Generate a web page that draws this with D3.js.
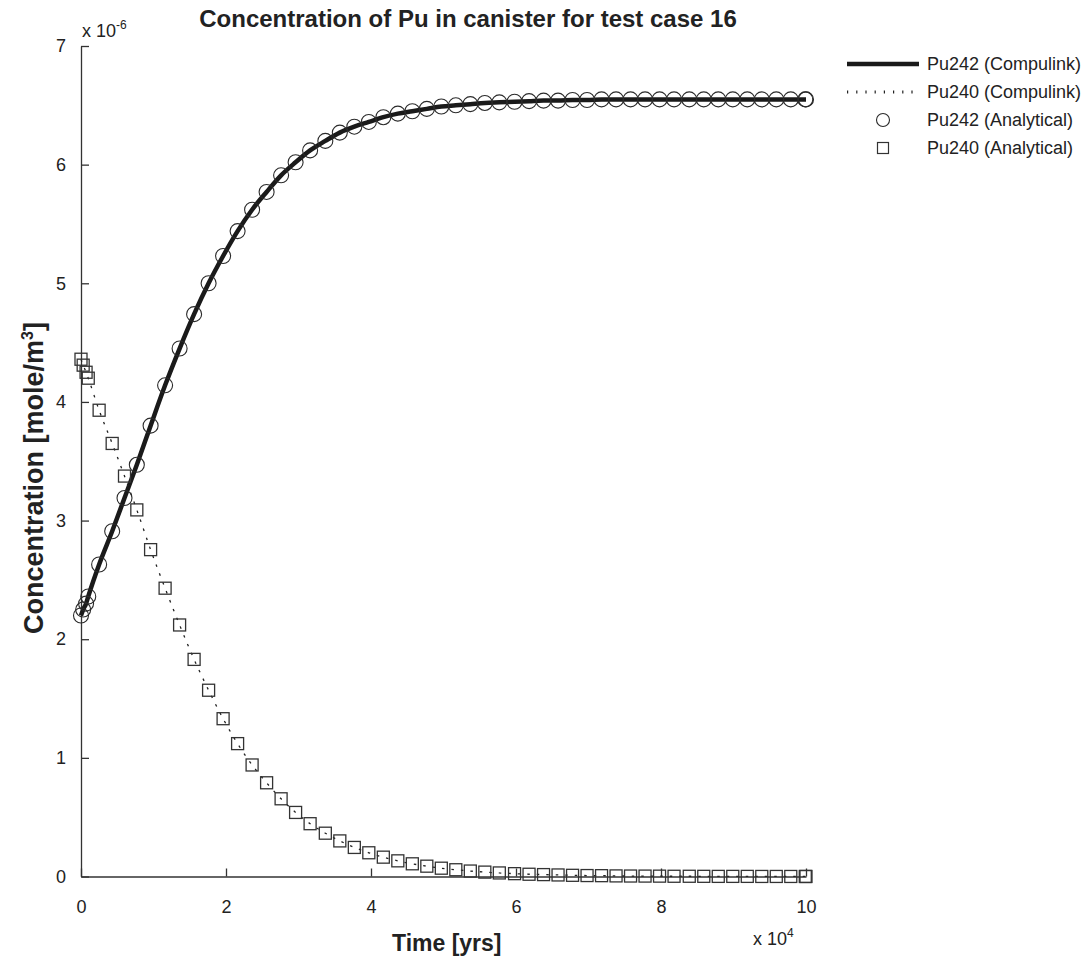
<!DOCTYPE html>
<html><head><meta charset="utf-8">
<script src="https://cdn.jsdelivr.net/npm/d3@7"></script>
<style>
body{margin:0;background:#fff}
text{font-family:"Liberation Sans",Arial,Helvetica,sans-serif;fill:#222}
</style>
</head><body>
<svg id="chart" width="1091" height="965"></svg>
<script>
// ---- data ----
const timeYears = [0, 300, 700, 1000, 2500, 4300, 6000, 7700, 9600, 11600, 13600, 15600, 17600, 19600,
  21600, 23600, 25600, 27600, 29600, 31600, 33700, 35700, 37700, 39700, 41700, 43700, 45700, 47700,
  49700, 51700, 53700, 55700, 57700, 59800, 61800, 63800, 65800, 67800, 69800, 71800, 73800, 75800,
  77800, 79800, 81800, 83900, 85900, 87900, 89900, 91900, 93900, 95900, 97900, 99900, 100000];
const pu242Analytical = [2.20, 2.25, 2.30, 2.36, 2.63, 2.91, 3.19, 3.47, 3.80, 4.14, 4.45, 4.74, 5.00, 5.23,
  5.44, 5.62, 5.77, 5.91, 6.02, 6.12, 6.20, 6.27, 6.32, 6.36, 6.40, 6.43, 6.45, 6.47,
  6.49, 6.50, 6.51, 6.52, 6.525, 6.53, 6.535, 6.54, 6.54, 6.545, 6.545, 6.55, 6.55, 6.55,
  6.55, 6.55, 6.55, 6.55, 6.55, 6.55, 6.55, 6.55, 6.55, 6.55, 6.55, 6.55, 6.55];
const pu240Analytical = [4.36, 4.31, 4.25, 4.20, 3.93, 3.65, 3.375, 3.09, 2.755, 2.43, 2.12, 1.83, 1.57, 1.33,
  1.12, 0.94, 0.79, 0.655, 0.54, 0.445, 0.365, 0.30, 0.245, 0.20, 0.163, 0.132, 0.107, 0.087,
  0.070, 0.057, 0.046, 0.037, 0.030, 0.024, 0.019, 0.016, 0.013, 0.010, 0.008, 0.007, 0.005, 0.004,
  0.0035, 0.003, 0.002, 0.002, 0.0015, 0.001, 0.001, 0.001, 0.0005, 0.0005, 0.0004, 0.0003, 0.0003];
// Compulink curves coincide with the analytical solution
const compulinkTimes = timeYears;
const pu242Compulink = pu242Analytical;
const pu240Compulink = pu240Analytical;
const valueScale = 1e-6;
const xTicks = [0, 20000, 40000, 60000, 80000, 100000];
const xTickLabels = ["0", "2", "4", "6", "8", "10"];
const yTicks = [0, 1, 2, 3, 4, 5, 6, 7];
const yTickLabels = ["0", "1", "2", "3", "4", "5", "6", "7"];
const legendLabels = ["Pu242 (Compulink)", "Pu240 (Compulink)", "Pu242 (Analytical)", "Pu240 (Analytical)"];

// ---- chart ----
const svg = d3.select("#chart");
const x = d3.scaleLinear().domain([0, 100000]).range([81, 806]);
const y = d3.scaleLinear().domain([0, 7e-6]).range([876.5, 46]);
const ink = "#222";

// axes
const xAxis = d3.axisBottom(x).tickValues(xTicks).tickFormat((d, i) => xTickLabels[i])
  .tickSizeInner(-8).tickSizeOuter(0).tickPadding(24);
const gx = svg.append("g").attr("transform", `translate(0,${y(0)})`).call(xAxis);
const yAxis = d3.axisLeft(y).tickValues(yTicks.map(v => v * valueScale)).tickFormat((d, i) => yTickLabels[i])
  .tickSizeInner(-8).tickSizeOuter(0).tickPadding(15);
const gy = svg.append("g").attr("transform", `translate(${x(0)},0)`).call(yAxis);
[gx, gy].forEach(g => {
  g.select(".domain").attr("stroke", "#333").attr("stroke-width", 1.3);
  g.selectAll(".tick line").attr("stroke", "#333").attr("stroke-width", 1.3);
  g.selectAll(".tick text").attr("font-size", 18).attr("fill", ink)
   .style("font-family", '"Liberation Sans",Arial,sans-serif');
});

// lines
const pts242 = compulinkTimes.map((t, i) => [t, pu242Compulink[i] * valueScale]);
const pts240 = compulinkTimes.map((t, i) => [t, pu240Compulink[i] * valueScale]);
const line = d3.line().x(d => x(d[0])).y(d => y(d[1])).curve(d3.curveMonotoneX);
svg.append("path").attr("d", line(pts242)).attr("fill", "none").attr("stroke", "#1a1a1a").attr("stroke-width", 4.5);
svg.append("path").attr("d", line(pts240)).attr("fill", "none").attr("stroke", "#222")
  .attr("stroke-width", 1.3).attr("stroke-dasharray", "2.5,7");

// markers
svg.append("g").selectAll("circle").data(timeYears).join("circle")
  .attr("cx", d => x(d)).attr("cy", (d, i) => y(pu242Analytical[i] * valueScale))
  .attr("r", 7.5).attr("fill", "none").attr("stroke", "#2a2a2a").attr("stroke-width", 1.1);
const sq = 12;
svg.append("g").selectAll("rect").data(timeYears).join("rect")
  .attr("x", d => x(d) - sq / 2).attr("y", (d, i) => y(pu240Analytical[i] * valueScale) - sq / 2)
  .attr("width", sq).attr("height", sq).attr("fill", "none").attr("stroke", "#333").attr("stroke-width", 1.3);

// title & labels
svg.append("text").attr("x", 468).attr("y", 27).attr("text-anchor", "middle").attr("font-size", 24).attr("font-weight", "bold")
  .text("Concentration of Pu in canister for test case 16");
svg.append("text").attr("x", 392).attr("y", 951).attr("font-size", 23).attr("font-weight", "bold")
  .text("Time [yrs]");
const yl = svg.append("text").attr("transform", "translate(43,478) rotate(-90)")
  .attr("text-anchor", "middle").attr("font-size", 27).attr("font-weight", "bold");
yl.append("tspan").text("Concentration [mole/m");
yl.append("tspan").attr("font-size", 16).attr("dy", -10).text("3");
yl.append("tspan").attr("dy", 10).text("]");

const e6 = svg.append("text").attr("x", 82).attr("y", 37).attr("font-size", 18);
e6.append("tspan").text("x 10");
e6.append("tspan").attr("font-size", 12).attr("dy", -8).text("-6");
const e4 = svg.append("text").attr("x", 753).attr("y", 945).attr("font-size", 18);
e4.append("tspan").text("x 10");
e4.append("tspan").attr("font-size", 12).attr("dy", -8).text("4");

// legend
const legRows = [64, 92, 120, 148];
const lg = svg.append("g");
lg.append("line").attr("x1", 847).attr("x2", 919).attr("y1", legRows[0]).attr("y2", legRows[0])
  .attr("stroke", "#1a1a1a").attr("stroke-width", 4.5);
lg.append("line").attr("x1", 847).attr("x2", 919).attr("y1", legRows[1]).attr("y2", legRows[1])
  .attr("stroke", "#222").attr("stroke-width", 3).attr("stroke-dasharray", "1.2,8");
lg.append("circle").attr("cx", 883).attr("cy", legRows[2]).attr("r", 6.5)
  .attr("fill", "none").attr("stroke", "#2a2a2a").attr("stroke-width", 1.1);
lg.append("rect").attr("x", 883 - 5.5).attr("y", legRows[3] - 5.5).attr("width", 11).attr("height", 11)
  .attr("fill", "none").attr("stroke", "#333").attr("stroke-width", 1.2);
lg.selectAll("text").data(legendLabels).join("text")
  .attr("x", 927).attr("y", (d, i) => legRows[i]).attr("dy", "0.35em").attr("font-size", 18).text(d => d);
</script>
</body></html>
